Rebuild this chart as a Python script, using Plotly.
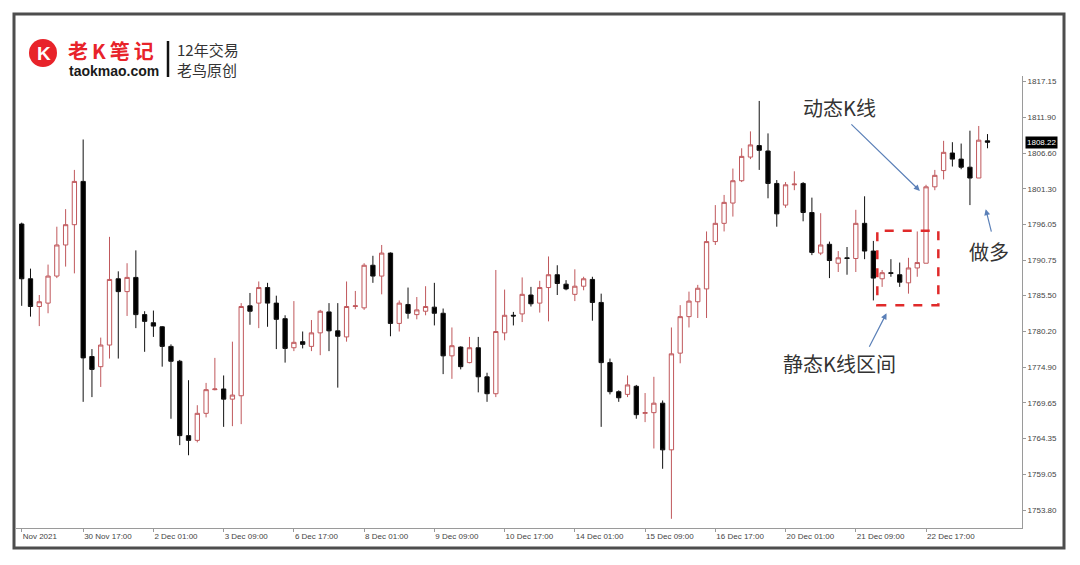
import plotly.graph_objects as go

# ---------------- data (H4 XAUUSD candles) ----------------
bar_index = list(range(1, 112))

opens = [1796.1, 1788.0, 1783.9, 1784.4, 1788.4, 1793.0, 1796.0, 1802.4, 1776.5, 1775.0,
         1778.2, 1788.0, 1786.1, 1788.2, 1782.7, 1781.5, 1780.9, 1778.0, 1775.8, 1764.8,
         1764.1, 1768.1, 1771.6, 1771.7, 1770.2, 1770.7, 1784.0, 1784.4, 1786.7, 1784.4,
         1782.1, 1777.8, 1778.7, 1778.0, 1780.0, 1783.1, 1780.3, 1779.4, 1783.9, 1783.7,
         1790.0, 1788.4, 1791.8, 1781.4, 1784.2, 1782.7, 1783.2, 1783.8, 1782.9, 1776.6,
         1777.9, 1775.6, 1777.8, 1773.5, 1771.0, 1780.0, 1782.6, 1782.8, 1785.6, 1784.4,
         1786.7, 1788.6, 1787.2, 1785.7, 1786.9, 1787.9, 1784.5, 1775.6, 1771.3, 1770.9,
         1772.1, 1768.1, 1768.2, 1769.6, 1762.7, 1777.0, 1782.4, 1784.6, 1786.5, 1793.5,
         1796.2, 1799.2, 1802.5, 1806.0, 1807.7, 1806.9, 1802.1, 1798.9, 1801.9, 1802.1,
         1797.8, 1791.8, 1793.1, 1790.3, 1791.1, 1791.0, 1796.2, 1792.1, 1788.0, 1788.9,
         1788.6, 1787.4, 1789.6, 1790.3, 1801.6, 1804.0, 1806.6, 1805.7, 1804.5, 1802.9,
         1808.4]

highs = [1796.3, 1789.5, 1785.6, 1790.1, 1795.7, 1798.3, 1804.1, 1808.6, 1777.6, 1779.3,
         1794.2, 1789.1, 1790.3, 1792.2, 1783.2, 1783.3, 1781.0, 1778.3, 1776.0, 1773.0,
         1769.3, 1772.6, 1776.3, 1773.7, 1778.7, 1784.4, 1785.9, 1787.6, 1787.4, 1785.5,
         1782.6, 1784.7, 1780.2, 1781.9, 1783.4, 1784.4, 1784.4, 1787.6, 1786.2, 1790.3,
         1791.4, 1793.0, 1791.9, 1784.8, 1786.7, 1785.3, 1786.9, 1787.4, 1783.6, 1780.8,
         1778.0, 1779.4, 1779.4, 1774.1, 1789.3, 1786.4, 1783.1, 1788.2, 1786.8, 1787.7,
         1791.3, 1790.0, 1787.8, 1789.4, 1788.3, 1788.3, 1785.8, 1776.2, 1771.5, 1773.7,
         1772.3, 1771.1, 1773.5, 1770.0, 1780.8, 1784.1, 1786.1, 1787.1, 1795.0, 1798.9,
         1800.4, 1804.3, 1807.3, 1809.8, 1814.3, 1809.5, 1802.6, 1802.3, 1803.9, 1802.3,
         1800.0, 1797.7, 1793.5, 1792.1, 1792.7, 1798.2, 1800.2, 1793.6, 1789.3, 1790.9,
         1790.4, 1791.1, 1795.0, 1801.9, 1804.1, 1808.4, 1808.2, 1808.0, 1809.9, 1810.6,
         1809.4]

lows = [1784.0, 1782.4, 1781.0, 1782.9, 1788.1, 1789.8, 1788.8, 1769.8, 1770.5, 1772.0,
        1776.2, 1776.2, 1782.5, 1780.7, 1777.2, 1779.4, 1775.0, 1767.3, 1763.4, 1761.9,
        1763.8, 1767.5, 1771.5, 1766.1, 1766.2, 1766.5, 1781.2, 1780.7, 1780.9, 1777.6,
        1775.6, 1777.3, 1777.7, 1777.3, 1776.7, 1777.3, 1771.9, 1778.7, 1783.5, 1783.4,
        1787.4, 1785.7, 1779.5, 1780.2, 1782.1, 1782.0, 1782.6, 1781.1, 1773.9, 1773.2,
        1774.6, 1775.5, 1771.2, 1769.8, 1770.5, 1778.9, 1781.1, 1781.6, 1783.9, 1783.0,
        1781.7, 1785.6, 1786.3, 1784.7, 1786.3, 1781.8, 1766.1, 1770.9, 1769.8, 1770.5,
        1767.3, 1766.8, 1762.9, 1759.9, 1752.5, 1775.5, 1780.8, 1782.2, 1782.2, 1793.0,
        1795.0, 1797.2, 1802.3, 1805.7, 1804.1, 1799.9, 1795.7, 1798.5, 1801.1, 1796.5,
        1791.5, 1791.5, 1788.1, 1789.0, 1788.6, 1789.0, 1790.9, 1784.8, 1786.8, 1788.3,
        1786.8, 1785.8, 1788.3, 1790.3, 1801.1, 1802.7, 1804.6, 1804.2, 1798.9, 1802.9,
        1807.3]

closes = [1788.0, 1783.9, 1784.6, 1788.4, 1793.0, 1796.0, 1802.4, 1776.3, 1774.6, 1778.2,
          1787.9, 1786.1, 1788.2, 1782.7, 1781.7, 1781.0, 1778.0, 1775.8, 1764.8, 1764.1,
          1768.1, 1771.6, 1771.7, 1770.2, 1770.8, 1783.9, 1783.2, 1786.7, 1784.4, 1782.0,
          1777.7, 1778.6, 1778.3, 1780.0, 1783.2, 1780.3, 1779.5, 1783.9, 1784.0, 1790.0,
          1788.4, 1791.8, 1781.4, 1784.4, 1782.9, 1783.4, 1783.9, 1782.9, 1776.6, 1778.1,
          1775.0, 1777.8, 1773.5, 1771.0, 1780.2, 1782.6, 1782.5, 1785.7, 1784.3, 1786.7,
          1788.6, 1787.3, 1786.5, 1786.9, 1788.0, 1784.5, 1775.6, 1771.3, 1770.4, 1772.3,
          1767.9, 1768.2, 1769.6, 1762.7, 1776.9, 1782.4, 1784.7, 1786.6, 1793.5, 1796.2,
          1799.3, 1802.5, 1806.1, 1807.8, 1807.0, 1802.1, 1797.6, 1801.9, 1802.0, 1797.8,
          1791.9, 1793.0, 1790.7, 1791.1, 1791.0, 1796.2, 1792.1, 1788.1, 1788.9, 1788.8,
          1787.5, 1789.6, 1790.4, 1801.6, 1803.3, 1806.7, 1805.7, 1804.5, 1802.9, 1808.5,
          1808.2]

tick_bars = [1, 8, 16, 24, 32, 40, 48, 56, 64, 72, 80, 88, 96, 104]
tick_labels = ["Nov 2021", "30 Nov 17:00", "2 Dec 01:00", "3 Dec 09:00", "6 Dec 17:00",
               "8 Dec 01:00", "9 Dec 09:00", "10 Dec 17:00", "14 Dec 01:00",
               "15 Dec 09:00", "16 Dec 17:00", "20 Dec 01:00", "21 Dec 09:00",
               "22 Dec 17:00"]

price_ticks = [1817.15, 1811.90, 1806.60, 1801.30, 1796.05, 1790.75, 1785.50,
               1780.20, 1774.90, 1769.65, 1764.35, 1759.05, 1753.80]
price_labels = ["%.2f" % v for v in price_ticks]
last_price = 1808.22

# static-range box (bars / prices)
box_bars = [98.45, 105.4]
box_prices = [1784.1, 1795.1]

# ---------------- layout geometry ----------------
# the page body has an 8px margin, so the figure starts at screen (8, 8)
OFF = 8
W, H = 1064, 549
ML, MR, MT, MB = 8, 50, 68, 29
PW, PH = W - ML - MR, H - MT - MB


def fx(sx):
    """screen x pixel -> paper coordinate"""
    return (sx - OFF - ML) / PW


def fy(sy):
    """screen y pixel -> paper coordinate"""
    return (H - MB - (sy - OFF)) / PH


fig = go.Figure()
fig.add_trace(go.Candlestick(
    x=bar_index, open=opens, high=highs, low=lows, close=closes,
    increasing=dict(line=dict(color="#c0585c", width=1), fillcolor="#ffffff"),
    decreasing=dict(line=dict(color="#111111", width=1), fillcolor="#000000"),
    whiskerwidth=0, hoverinfo="skip", showlegend=False,
))

cjk = "Noto Sans CJK SC"
latin = "Liberation Sans"

shapes = [
    # outer frame
    dict(type="rect", xref="paper", yref="paper", x0=fx(14), x1=fx(1064),
         y0=fy(548), y1=fy(14), line=dict(color="#4d4d4d", width=3), layer="above"),
    # static K range box
    dict(type="rect", xref="x", yref="y", x0=box_bars[0], x1=box_bars[1],
         y0=box_prices[0], y1=box_prices[1],
         line=dict(color="#e02a2a", width=2.5, dash="dash")),
    # logo circle
    dict(type="circle", xref="paper", yref="paper", x0=fx(29), x1=fx(57),
         y0=fy(67), y1=fy(39), fillcolor="#e8232a", line=dict(width=0)),
    # logo divider
    dict(type="line", xref="paper", yref="paper", x0=fx(168), x1=fx(168),
         y0=fy(77), y1=fy(41), line=dict(color="#111111", width=2.5)),
]


def paper_text(text, sx, sy, size, color, family, anchor="left"):
    return dict(text=text, x=fx(sx), y=fy(sy), xref="paper", yref="paper",
                xanchor=anchor, yanchor="middle", showarrow=False,
                font=dict(family=family, size=size, color=color))


anns = [
    paper_text("<b>K</b>", 43.5, 53.5, 19, "#ffffff", latin, anchor="center"),
    paper_text("<b>老\u2009K\u2009笔\u2009记</b>", 66, 50, 20, "#e8232a", cjk),
    paper_text("<b>taokmao.com</b>", 67, 71.5, 14, "#1a1a1a", latin),
    paper_text("12年交易", 175, 49.5, 15, "#333333", cjk),
    paper_text("老鸟原创", 175, 69.5, 15, "#333333", cjk),
    # current price tag
    dict(text="1808.22", x=1, xshift=3, y=last_price, xref="paper", yref="y",
         xanchor="left", yanchor="middle", showarrow=False, bgcolor="#000000",
         borderpad=1, font=dict(family=latin, size=8, color="#ffffff")),
    # callouts
    dict(text="动态K线", x=94.1, y=1813.3, xref="x", yref="y", showarrow=False,
         xanchor="center", yanchor="middle",
         font=dict(family=cjk, size=20, color="#333333")),
    dict(text="静态K线区间", x=94.2, y=1775.4, xref="x", yref="y", showarrow=False,
         xanchor="center", yanchor="middle",
         font=dict(family=cjk, size=20, color="#333333")),
    dict(text="做多", x=111.2, y=1792.1, xref="x", yref="y", showarrow=False,
         xanchor="center", yanchor="middle",
         font=dict(family=cjk, size=20, color="#333333")),
    # arrows
    dict(text="", x=103.3, y=1801.0, xref="x", yref="y", ax=-70, ay=-68,
         showarrow=True, arrowhead=2, arrowsize=1, arrowwidth=1.2, arrowcolor="#5b80b8"),
    dict(text="", x=99.5, y=1782.9, xref="x", yref="y", ax=-18, ay=35,
         showarrow=True, arrowhead=2, arrowsize=1, arrowwidth=1.2, arrowcolor="#5b80b8"),
    dict(text="", x=110.8, y=1798.3, xref="x", yref="y", ax=6, ay=24,
         showarrow=True, arrowhead=2, arrowsize=1, arrowwidth=1.2, arrowcolor="#5b80b8"),
]

fig.update_layout(
    width=W, height=H,
    margin=dict(l=ML, r=MR, t=MT, b=MB, autoexpand=False),
    paper_bgcolor="#ffffff", plot_bgcolor="#ffffff",
    shapes=shapes, annotations=anns, showlegend=False,
    xaxis=dict(range=[0.35, 114.93], rangeslider=dict(visible=False),
               tickmode="array", tickvals=tick_bars, ticktext=tick_labels,
               ticklabelposition="outside right",
               showgrid=False, zeroline=False, showline=True, linecolor="#9a9a9a",
               linewidth=1, ticks="outside", ticklen=3, tickcolor="#9a9a9a",
               tickfont=dict(family=latin, size=8, color="#444444")),
    yaxis=dict(range=[1751.14, 1817.99], side="right",
               tickmode="array", tickvals=price_ticks, ticktext=price_labels,
               showgrid=False, zeroline=False, showline=True, linecolor="#9a9a9a",
               linewidth=1, ticks="outside", ticklen=3, tickcolor="#9a9a9a",
               tickfont=dict(family=latin, size=8, color="#444444")),
)

fig.write_html("out.html", config=dict(displayModeBar=False))
